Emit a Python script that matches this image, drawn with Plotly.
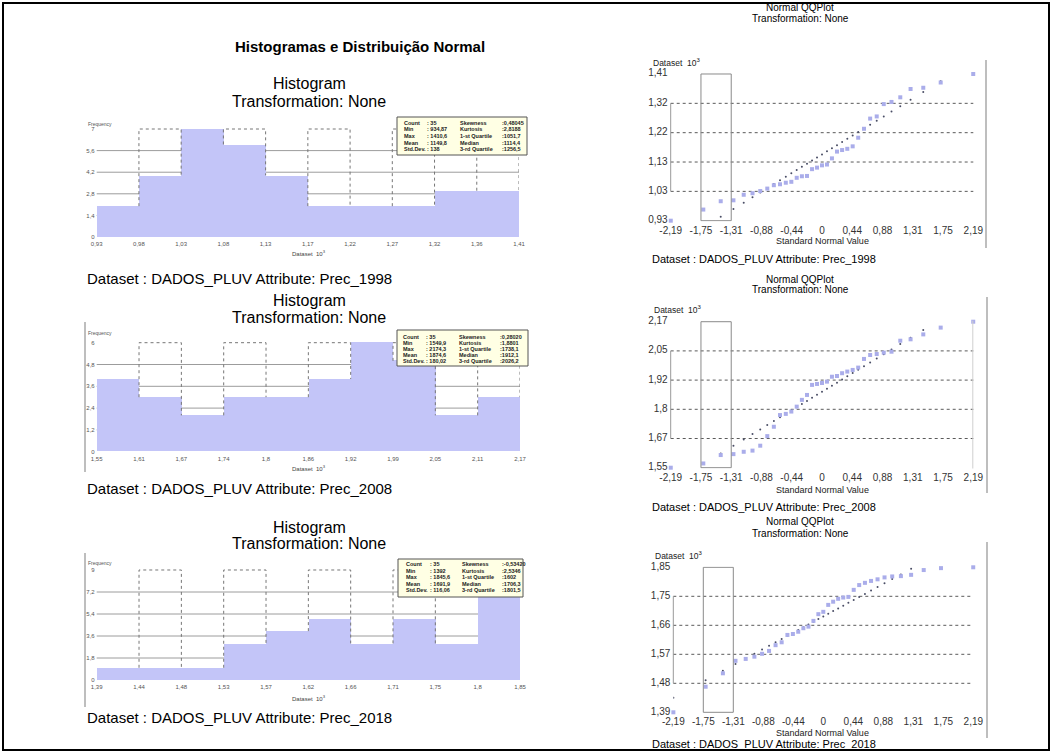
import plotly.graph_objects as go

W, H = 1052, 753
FONT = "Liberation Sans, Arial, sans-serif"

# ---------------- data ----------------
YEARS = ["1998", "2008", "2018"]

FREQ_1998 = [2, 4, 7, 6, 4, 2, 2, 2, 3, 3]
FREQ_2008 = [4, 3, 2, 3, 3, 4, 6, 5, 2, 3]
FREQ_2018 = [1, 1, 1, 3, 4, 5, 3, 5, 3, 9]
FREQ_AXIS_MAX = [7, 6, 9]

STAT_COUNT = [35, 35, 35]
STAT_MIN = [934.87, 1549.9, 1392.0]
STAT_MAX = [1410.6, 2174.3, 1845.6]
STAT_MEAN = [1149.8, 1874.6, 1691.9]
STAT_STD = [138.0, 180.02, 116.06]
STAT_SKEW = [0.48045, 0.28020, -0.53420]
STAT_KURT = [2.8188, 1.8801, 2.5346]
STAT_Q1 = [1051.7, 1738.1, 1602.0]
STAT_MEDIAN = [1114.4, 1912.1, 1706.3]
STAT_Q3 = [1256.5, 2026.2, 1801.5]

PREC_1998 = [934.9, 971, 998, 1001, 1019, 1024, 1031, 1039, 1050, 1053, 1058, 1061,
             1074, 1079, 1080, 1102, 1107, 1114.4, 1117, 1137, 1159, 1164, 1168, 1176,
             1204, 1233, 1266, 1273, 1313, 1320, 1335, 1362, 1366, 1383, 1410.6]
PREC_2008 = [1549.9, 1568, 1604, 1608, 1618, 1623, 1644, 1685, 1725, 1775, 1780, 1790,
             1811, 1840, 1861, 1904, 1908, 1912.1, 1918, 1939, 1942, 1954, 1961, 1968,
             1978, 2015, 2032, 2036, 2042, 2046, 2093, 2099, 2120, 2149, 2174.3]
PREC_2018 = [1392, 1472, 1514, 1553, 1559, 1566, 1575, 1584, 1602, 1611, 1634, 1637,
             1644, 1655, 1660, 1678, 1699, 1706.3, 1728, 1738, 1747, 1751, 1753, 1775,
             1790, 1797, 1803, 1808, 1814, 1817, 1818, 1822, 1837, 1843, 1845.6]

NORMAL_SCORES = [-2.189, -1.718, -1.466, -1.282, -1.133, -1.006, -0.894, -0.792, -0.697,
                 -0.608, -0.524, -0.444, -0.366, -0.291, -0.217, -0.144, -0.072, 0.0,
                 0.072, 0.144, 0.217, 0.291, 0.366, 0.444, 0.524, 0.608, 0.697, 0.792,
                 0.894, 1.006, 1.133, 1.282, 1.466, 1.718, 2.189]
QQ_X_TICKVALS = [-2.19, -1.752, -1.314, -0.876, -0.438, 0.0, 0.438, 0.876, 1.314, 1.752, 2.19]
QQ_X_TICKTEXT = ["-2,19", "-1,75", "-1,31", "-0,88", "-0,44", "0",
                 "0,44", "0,88", "1,31", "1,75", "2,19"]

STAT_LABELS_A = ["Count", "Min", "Max", "Mean", "Std.Dev."]
STAT_LABELS_B = ["Skewness", "Kurtosis", "1-st Quartile", "Median", "3-rd Quartile"]

FREQS = [FREQ_1998, FREQ_2008, FREQ_2018]
PRECS = [PREC_1998, PREC_2008, PREC_2018]

# ---------------- geometry (pixels) ----------------
HIST_PX = [(96.7, 519.0, 129.0, 237.0), (96.7, 520.0, 342.7, 451.7), (96.7, 520.0, 570.0, 680.0)]
QQ_PX = [(670.7, 973.3, 74.0, 220.7), (670.7, 973.3, 321.7, 467.7), (673.3, 973.3, 567.3, 712.3)]
HIST_TITLE_Y = [(83, 101), (300, 317), (527, 543)]
HIST_XLABEL_Y = [253, 468, 698]
HIST_CAPTION_Y = [278, 488, 717]
HIST_FREQ_LABEL = [(86, 124), (86, 333), (86, 563)]
STAT_BOX = [(397, 117, 527, 155), (397, 330, 528, 366), (398, 559, 523, 597)]
STAT_COLS = [(402, 425, 458, 500), (401, 424, 457, 498), (404, 428, 460, 500)]
STAT_ROWS = [(122.7, 6.6), (336.7, 6.0), (564.0, 6.5)]
QQ_TITLE_Y = [(8, 19), (279, 289), (521, 533)]
QQ_YLABEL = [(651, 62), (652, 309), (653, 555)]
QQ_XLABEL_Y = [241, 490, 733]
QQ_CAPTION_Y = [259, 507, 744]

BAR_COLOR = "rgb(195,197,248)"
PT_COLOR = "rgb(170,173,234)"


def fmt(v, nd=2):
    s = f"{v:.{nd}f}".rstrip("0").rstrip(".")
    if s in ("", "-0"):
        s = "0"
    return s.replace(".", ",")


def sfmt(v):
    return f"{v:g}".replace(".", ",")


def ax(i):
    return "" if i == 1 else str(i)


def ylay(ytop, ybot, vlo, vhi, pad):
    plo, phi = 1 - ybot / H, 1 - ytop / H
    scale = (phi - plo) / (vhi - vlo)
    p = pad * (vhi - vlo)
    return [vlo - p, vhi + p], [plo - p * scale, phi + p * scale]


fig = go.Figure()
shapes, annotations = [], []
layout = {}


def ann(text, x, y, size, xanchor="center", color="#000", bold=False, family=FONT):
    annotations.append(dict(
        text=f"<b>{text}</b>" if bold else text, x=x / W, y=1 - y / H,
        xref="paper", yref="paper", xanchor=xanchor, yanchor="middle",
        showarrow=False, font=dict(size=size, color=color, family=family)))


# ---------------- histograms ----------------
for k in range(3):
    i = k + 1
    x0, x1, yt, yb = HIST_PX[k]
    mn, mx = STAT_MIN[k] / 1000, STAT_MAX[k] / 1000
    nb = len(FREQS[k])
    bw = (mx - mn) / nb
    edges = [mn + j * bw for j in range(nb + 1)]
    centers = [mn + (j + 0.5) * bw for j in range(nb)]
    fmax = FREQ_AXIS_MAX[k]
    freq = FREQS[k]

    fig.add_trace(go.Bar(x=centers, y=freq, width=bw, marker=dict(color=BAR_COLOR, line=dict(width=0)),
                         xaxis="x" + ax(i), yaxis="y" + ax(i), hoverinfo="skip"))
    # dotted outlines of alternate bins reaching the axis maximum
    ox, oy = [], []
    for j in range(1, nb, 2):
        if freq[j] >= fmax:
            continue
        lo_l = min(freq[j - 1], freq[j])
        lo_r = min(freq[j], freq[j + 1]) if j + 1 < nb else freq[j]
        ox += [edges[j], edges[j], edges[j + 1], edges[j + 1], None]
        oy += [lo_l, fmax, fmax, lo_r, None]
    fig.add_trace(go.Scatter(x=ox, y=oy, mode="lines", line=dict(color="#767676", width=1, dash="dot"),
                             xaxis="x" + ax(i), yaxis="y" + ax(i), hoverinfo="skip"))

    yticks = [fmax * j / 5 for j in range(6)]
    yr, ydomain = ylay(yt, yb, 0, fmax, 0.012)
    layout["xaxis" + ax(i)] = dict(domain=[x0 / W, x1 / W], range=[edges[0] - 1e-9, edges[-1] + 1e-9],
                                   anchor="y" + ax(i), tickmode="array", tickvals=edges,
                                   ticktext=[fmt(e) for e in edges],
                                   tickfont=dict(size=6, color="#555", family=FONT),
                                   showgrid=False, zeroline=False, showline=False, ticks="",
                                   ticklabelstandoff=1, automargin=False)
    layout["yaxis" + ax(i)] = dict(domain=ydomain, range=yr, anchor="x" + ax(i), tickmode="array",
                                   tickvals=yticks, ticktext=[fmt(t, 1) for t in yticks],
                                   tickfont=dict(size=6, color="#555", family=FONT),
                                   showgrid=False, zeroline=False, showline=False, ticks="",
                                   ticklabelstandoff=1, automargin=False)
    for t in yticks[1:5]:
        shapes.append(dict(type="line", layer="below", xref=f"x{ax(i)} domain", x0=0, x1=1,
                           yref="y" + ax(i), y0=t, y1=t, line=dict(color="#9c9c9c", width=1)))

    ty1, ty2 = HIST_TITLE_Y[k]
    ann("Histogram", 309, ty1, 16)
    ann("Transformation: None", 309, ty2, 16)
    ann("Dataset  10<sup>3</sup>", 309, HIST_XLABEL_Y[k], 6, color="#444")
    ann("Frequency", HIST_FREQ_LABEL[k][0], HIST_FREQ_LABEL[k][1], 5, xanchor="left", color="#555")
    ann(f"Dataset : DADOS_PLUV Attribute: Prec_{YEARS[k]}", 85, HIST_CAPTION_Y[k], 15, xanchor="left")

    # statistics box
    bx0, by0, bx1, by1 = STAT_BOX[k]
    shapes.append(dict(type="rect", xref="paper", yref="paper", x0=bx0 / W, x1=bx1 / W,
                       y0=1 - by1 / H, y1=1 - by0 / H, fillcolor="#ffffe4",
                       line=dict(color="#555", width=1)))
    vals_a = [str(STAT_COUNT[k]), sfmt(STAT_MIN[k]), sfmt(STAT_MAX[k]), sfmt(STAT_MEAN[k]), sfmt(STAT_STD[k])]
    vals_b = [f"{STAT_SKEW[k]:.5f}".replace(".", ","), sfmt(STAT_KURT[k]), sfmt(STAT_Q1[k]),
              sfmt(STAT_MEDIAN[k]), sfmt(STAT_Q3[k])]
    c1, c2, c3, c4 = STAT_COLS[k]
    r0, rs = STAT_ROWS[k]
    for r in range(5):
        yy = r0 + r * rs
        ann(STAT_LABELS_A[r], c1, yy, 5.5, "left", "#222", True)
        ann(": " + vals_a[r], c2, yy, 5.5, "left", "#222", True)
        ann(STAT_LABELS_B[r], c3, yy, 5.5, "left", "#222", True)
        ann(":" + vals_b[r], c4, yy, 5.5, "left", "#222", True)

# ---------------- normal QQ plots ----------------
for k in range(3):
    i = k + 4
    x0, x1, yt, yb = QQ_PX[k]
    mn, mx = STAT_MIN[k] / 1000, STAT_MAX[k] / 1000
    sample = [v / 1000 for v in PRECS[k]]
    ref = [(STAT_MEAN[k] + STAT_STD[k] * z) / 1000 for z in NORMAL_SCORES]

    fig.add_trace(go.Scatter(x=NORMAL_SCORES, y=ref, mode="markers",
                             marker=dict(size=2, color="#4a4e66"), cliponaxis=True,
                             xaxis="x" + ax(i), yaxis="y" + ax(i), hoverinfo="skip"))
    fig.add_trace(go.Scatter(x=NORMAL_SCORES, y=sample, mode="markers",
                             marker=dict(size=4, symbol="square", color=PT_COLOR), cliponaxis=False,
                             xaxis="x" + ax(i), yaxis="y" + ax(i), hoverinfo="skip"))

    yticks = [mn + j * (mx - mn) / 5 for j in range(6)]
    yr, ydomain = ylay(yt, yb, mn, mx, 0.006)
    layout["xaxis" + ax(i)] = dict(domain=[x0 / W, x1 / W], range=[-2.19 - 1e-6, 2.19 + 1e-6],
                                   anchor="y" + ax(i), tickmode="array", tickvals=QQ_X_TICKVALS,
                                   ticktext=QQ_X_TICKTEXT, tickfont=dict(size=10, color="#333", family=FONT),
                                   showgrid=False, zeroline=False, showline=False, ticks="",
                                   ticklabelstandoff=1, automargin=False)
    layout["yaxis" + ax(i)] = dict(domain=ydomain, range=yr, anchor="x" + ax(i), tickmode="array",
                                   tickvals=yticks, ticktext=[fmt(t) for t in yticks],
                                   tickfont=dict(size=10, color="#333", family=FONT),
                                   showgrid=False, zeroline=False, showline=False, ticks="",
                                   ticklabelstandoff=2, ticklabelshift=-1, automargin=False)
    for t in yticks[1:5]:
        shapes.append(dict(type="line", layer="below", xref=f"x{ax(i)} domain", x0=0, x1=1,
                           yref="y" + ax(i), y0=t, y1=t,
                           line=dict(color="#5a5a5a", width=1, dash="dot")))
    # left bracket between inner ticks
    shapes.append(dict(type="line", layer="below", xref=f"x{ax(i)} domain", x0=0, x1=0,
                       yref="y" + ax(i), y0=yticks[1], y1=yticks[4], line=dict(color="#999", width=1)))
    # selection rectangle between 2nd and 3rd tick
    shapes.append(dict(type="rect", xref="x" + ax(i), yref="y" + ax(i),
                       x0=QQ_X_TICKVALS[1], x1=QQ_X_TICKVALS[2], y0=mn, y1=mx,
                       line=dict(color="#8a8a8a", width=1)))

    ty1, ty2 = QQ_TITLE_Y[k]
    ann("Normal QQPlot", 800, ty1, 10)
    ann("Transformation: None", 800, ty2, 10)
    ann("Dataset  10<sup>3</sup>", QQ_YLABEL[k][0], QQ_YLABEL[k][1], 8.5, "left", "#222")
    ann("Standard Normal Value", 822, QQ_XLABEL_Y[k], 9, color="#222")
    ann(f"Dataset : DADOS_PLUV Attribute: Prec_{YEARS[k]}", 650, QQ_CAPTION_Y[k], 11, "left")

# grey vertical line at the right end of the second QQ plot
shapes.append(dict(type="line", xref="x5", x0=2.19, x1=2.19, yref="y5 domain", y0=0, y1=1,
                   line=dict(color="#cfcfcf", width=2)))

# panel borders
for (xx, ya, yb2) in [(986, 60, 248), (987, 297, 493), (987, 542, 738), (85, 322, 472), (85, 553, 707)]:
    shapes.append(dict(type="line", xref="paper", yref="paper", x0=xx / W, x1=xx / W,
                       y0=1 - yb2 / H, y1=1 - ya / H, line=dict(color="#a8a8a8", width=1.5)))

# main title and outer frame
ann("Histogramas e Distribuição Normal", 360, 47, 15, bold=True)
shapes.append(dict(type="rect", xref="paper", yref="paper", x0=3 / W, x1=1049 / W, y0=1 - 750 / H, y1=1 - 3 / H,
                   line=dict(color="#000", width=2)))

fig.update_layout(
    width=W, height=H, autosize=False, margin=dict(l=0, r=0, t=0, b=0, pad=0, autoexpand=False),
    paper_bgcolor="white", plot_bgcolor="white", showlegend=False, bargap=0,
    shapes=shapes, annotations=annotations, **layout)

fig.write_html("out.html", config={"displayModeBar": False},
               post_script="document.body.style.margin='0px';document.body.style.overflow='hidden';")
